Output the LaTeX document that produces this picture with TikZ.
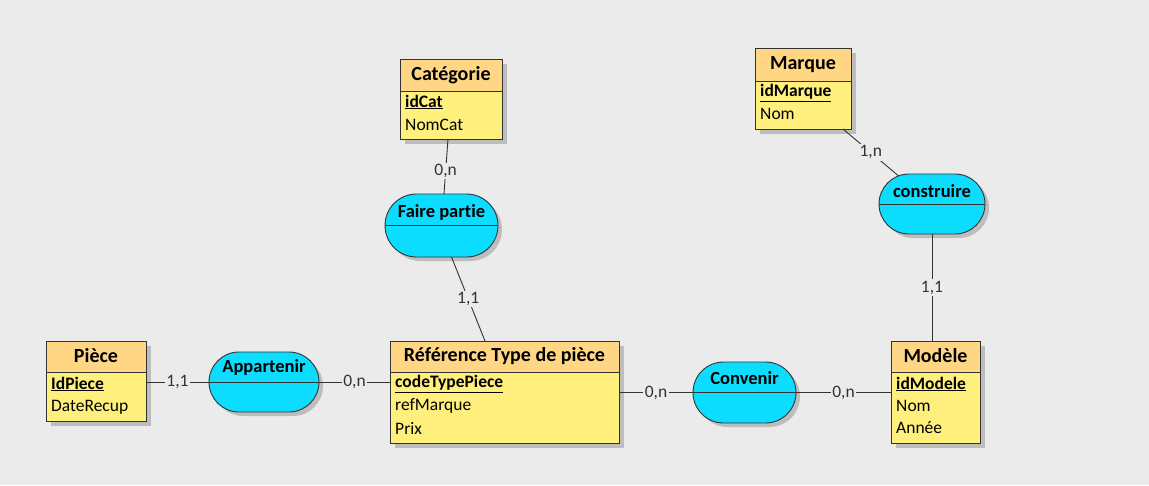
\documentclass[tikz,border=0pt]{standalone}
\usepackage{fontspec}
\setmainfont{Carlito}[Ligatures={NoCommon,NoRare}]
\usetikzlibrary{shapes.misc}
\definecolor{bgc}{HTML}{EBEBEB}
\definecolor{headc}{HTML}{FFD683}
\definecolor{bodyc}{HTML}{FFF07D}
\definecolor{assoc}{HTML}{0CDDFF}
\definecolor{linec}{HTML}{333333}
\definecolor{shadc}{HTML}{BDBDBD}
\tikzset{
  entbody/.style={fill=bodyc, inner sep=0pt, outer sep=0pt},
  entline/.style={draw=linec, line width=0.9pt},
  etitle/.style={font=\bfseries\fontsize{20}{24}\selectfont, inner sep=0pt},
  ekey/.style={font=\bfseries\fontsize{17.5}{20}\selectfont, anchor=west, inner sep=0pt},
  eattr/.style={font=\fontsize{17.5}{20}\selectfont, anchor=west, inner sep=0pt},
  assocbox/.style={rounded rectangle, draw=linec, line width=0.9pt, fill=assoc, inner sep=0pt, outer sep=0pt},
  atitle/.style={font=\bfseries\fontsize{18.5}{22}\selectfont, inner sep=0pt},
  conn/.style={draw=linec, line width=0.9pt},
  card/.style={font=\fontsize{17.5}{20}\selectfont, text=linec, fill=bgc, inner sep=1.5pt},
}
\newcommand\entity[6]{%
  \fill[shadc] (#2+5,#3+5) rectangle (#4+5,#5+5);
  \node[entbody, minimum width={#4-#2}, minimum height={#5-#3}] (#1) at ({(#2+#4)/2},{(#3+#5)/2}) {};
  \fill[headc] (#1.north west) rectangle (#1.east |- 0,#6);
  \draw[linec, line width=0.7pt] (#1.west |- 0,#6) -- (#1.east |- 0,#6);
  \draw[entline] (#1.north west) rectangle (#1.south east);
}
\newcommand\assoc[5]{%
  \node[assocbox, fill=shadc, draw=none, minimum width=#4, minimum height=#5] at (#2+4,#3+4) {};
  \node[assocbox, minimum width=#4, minimum height=#5] (#1) at (#2,#3) {};
  \draw[linec, line width=0.8pt] (#1.west) -- (#1.east);
}
\begin{document}
\begin{tikzpicture}[x=1pt,y=-1pt]
\useasboundingbox (0,0) rectangle (1149,485);
\fill[bgc] (0,0) rectangle (1149,485);

% entities
\entity{cat}{400}{59}{502}{139}{91}
\node[etitle] (catt) at (451,75) {Catégorie};
\node[ekey] (catk) at (405,102) {\underline{idCat}};
\node[eattr] (cat1) at (405,125) {NomCat};

\entity{mar}{755}{48}{851}{129}{81}
\node[etitle] (mart) at (803,65) {Marque};
\node[ekey] (mark) at (760,93) {\underline{idMarque}};
\node[eattr] (mar1) at (760,114) {Nom};

\entity{pie}{46}{341}{146}{421}{372}
\node[etitle] (piet) at (96,356) {Pièce};
\node[ekey] (piek) at (51,384) {\underline{IdPiece}};
\node[eattr] (pie1) at (51,407) {DateRecup};

\entity{ref}{390}{341}{619}{443}{372}
\node[etitle] (reft) at (504.5,356) {Référence Type de pièce};
\node[ekey] (refk) at (395,384) {\underline{codeTypePiece}};
\node[eattr] (ref1) at (395,406) {refMarque};
\node[eattr] (ref2) at (395,428) {Prix};

\entity{mod}{891}{341}{980}{443}{372}
\node[etitle] (modt) at (935.5,356) {Modèle};
\node[ekey] (modk) at (896,384) {\underline{idModele}};
\node[eattr] (mod1) at (896,406) {Nom};
\node[eattr] (mod2) at (896,428) {Année};

% associations
\assoc{fp}{441.5}{225.5}{113}{63}
\node[atitle] (fpt) at (441.5,212) {Faire partie};
\assoc{co}{932}{204}{106}{60}
\node[atitle] (cot) at (932,191) {construire};
\assoc{ap}{264}{382}{110}{60}
\node[atitle] (apt) at (264,367) {Appartenir};
\assoc{cv}{744.5}{392.5}{103}{61}
\node[atitle] (cvt) at (744.5,378) {Convenir};

% connectors
\draw[conn] (pie.east |- ap.west) -- node[card] {1,1} (ap.west);
\draw[conn] (ap.east) -- node[card] {0,n} (ref.west |- ap.east);
\draw[conn] (ref.east |- cv.west) -- node[card] {0,n} (cv.west);
\draw[conn] (cv.east) -- node[card] {0,n} (mod.west |- cv.east);
\draw[conn] ([xshift=-3]cat.south) -- node[card, pos=0.58] {0,n} ([xshift=2.5]fp.north);
\draw[conn] ([xshift=10]fp.south) -- node[card] {1,1} ([xshift=-19.5]ref.north);
\draw[conn] ([xshift=-8]mar.south east) -- node[card] {1,n} (co.140);
\draw[conn] (co.south) -- node[card] {1,1} (co.south |- mod.north);
\end{tikzpicture}
\end{document}
